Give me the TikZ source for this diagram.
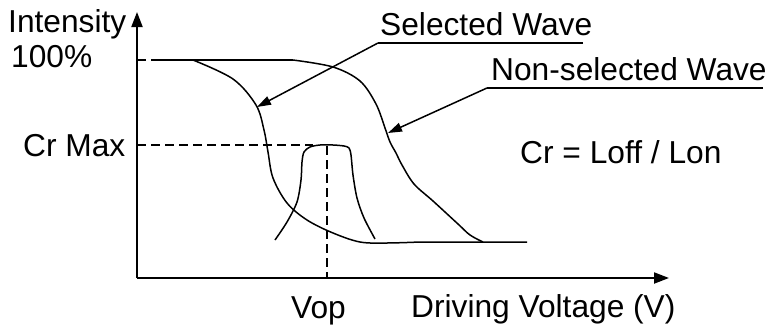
\documentclass[tikz,border=0pt]{standalone}
\usepackage{fontspec}
\setmainfont{Liberation Sans}
\usetikzlibrary{arrows.meta}
\begin{document}
\begin{tikzpicture}[x=1pt,y=-1pt,
  lbl/.style={anchor=base west,inner sep=0pt,font=\fontsize{31.7}{38}\selectfont},
  axis/.style={line width=2pt,-{Triangle[length=15pt,width=11pt]}},
  curve/.style={line width=1.5pt,line join=round},
  guide/.style={line width=1.5pt,dash pattern=on 9pt off 5pt},
  leader/.style={line width=1.5pt,-{Triangle[length=14pt,width=9pt]}}]
\useasboundingbox (0,0) rectangle (770,324);
% labels
\node[lbl] (int) at (8,32) {Intensity};
\node[lbl] (hundred) at (11,67) {100\%};
\node[lbl] (crmax) at (23,156) {Cr Max};
\node[lbl] (vop) at (291,318) {Vop};
\node[lbl] (dv) at (411,317) {Driving Voltage (V)};
\node[lbl] (sel) at (380,35) {Selected Wave};
\node[lbl] (nsel) at (491,80) {Non-selected Wave};
\node[lbl] (cr) at (520,163) {Cr = Loff / Lon};
% axes
\coordinate (o) at (137,278);
\coordinate (ytop) at (137,12);
\coordinate (xend) at (669,278);
\draw[axis] (o) -- (ytop);
\draw[axis] (o) -- (xend);
% guides
\coordinate (g1a) at (137,60);
\coordinate (g1b) at (160,60);
\coordinate (g2a) at (137,145);
\coordinate (g2b) at (313,145);
\coordinate (g3a) at (327,146);
\coordinate (g3b) at (327,278);
\draw[guide] (g1a) -- (g1b);
\draw[guide] (g2a) -- (g2b);
\draw[guide] (g3a) -- (g3b);
% top flat
\draw[curve] (160,60) -- (293,60);
% selected wave
\draw[curve] plot[smooth,tension=0.55] coordinates {(193,60) (233,79) (256,105) (264,130) (268,152) (273,178) (287,203) (307,220) (333,233) (360,242) (387,243) (420,242)} -- (527,242);
% non-selected wave
\draw[curve] plot[smooth,tension=0.55] coordinates {(293,60) (333,67) (360,81) (376,104) (385,128) (390,142) (396,153) (402,165) (414,184) (433,201) (458,224) (470,235) (483,242)};
% bump
\draw[curve] plot[smooth,tension=0.5] coordinates {(275,240) (287,222) (297,202) (301,180) (302,162) (304,152) (310,147) (320,145) (333,145) (344,146) (349,148) (351,155) (353,175) (357,198) (364,218) (375,239)};
% leaders
\coordinate (s1) at (583,43);
\coordinate (s2) at (378,43);
\coordinate (s3) at (257,107);
\coordinate (n1) at (763,88);
\coordinate (n2) at (487,88);
\coordinate (n3) at (388,133);
\draw[line width=1.5pt] (s1) -- (s2);
\draw[leader] (s2) -- (s3);
\draw[line width=1.5pt] (n1) -- (n2);
\draw[leader] (n2) -- (n3);
\end{tikzpicture}
\end{document}
